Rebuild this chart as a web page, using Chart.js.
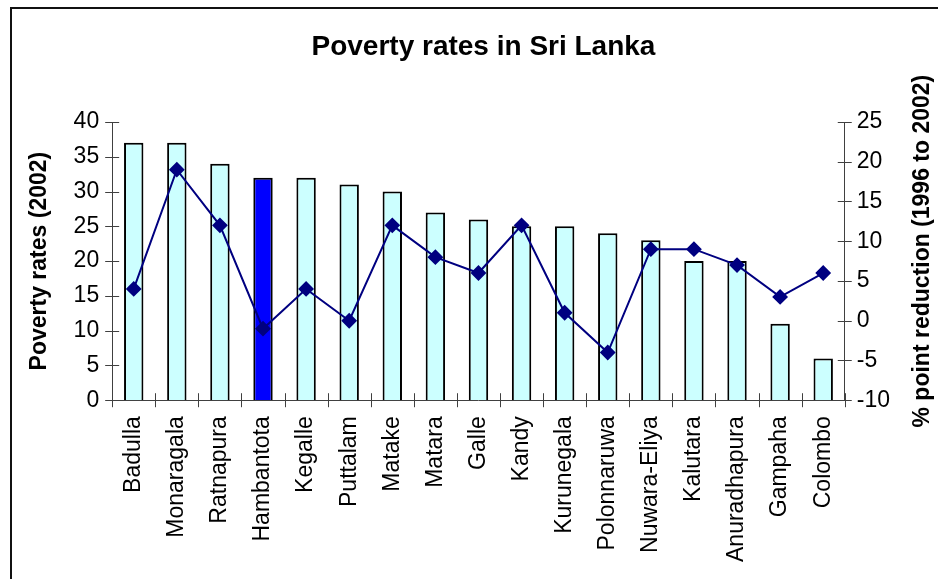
<!DOCTYPE html>
<html>
<head>
<meta charset="utf-8">
<title>Poverty rates in Sri Lanka</title>
<script src="https://cdn.jsdelivr.net/npm/chart.js@4.4.1/dist/chart.umd.min.js"></script>
<style>
    body { margin: 0; background: #fff; }
    #wrap { position: relative; width: 938px; height: 579px; overflow: hidden; }
    #frame { position: absolute; left: 10px; top: 7px; width: 1000px; height: 1000px;
             border-left: 2px solid #111; border-top: 2px solid #111; }
    canvas { position: absolute; left: 0; top: 0; }
</style>
</head>
<body>
<div id="wrap">
    <div id="frame"></div>
    <canvas id="chart" width="938" height="579"></canvas>
</div>
<script>
'use strict';

// districts, ordered by poverty rate as in the original chart
const districts = ['Badulla', 'Monaragala', 'Ratnapura', 'Hambantota', 'Kegalle', 'Puttalam',
    'Matake', 'Matara', 'Galle', 'Kandy', 'Kurunegala', 'Polonnaruwa', 'Nuwara-Eliya',
    'Kalutara', 'Anuradhapura', 'Gampaha', 'Colombo'];

// poverty rate 2002 (left axis, bars)
const povertyRates = [37, 37, 34, 32, 32, 31, 30, 27, 26, 25, 25, 24, 23, 20, 20, 11, 6];

// % point reduction 1996 to 2002 (right axis, line)
const pointReduction = [4, 19, 12, -1, 4, 0, 12, 8, 6, 12, 1, -4, 9, 9, 7, 3, 6];

const highlighted = 'Hambantota';

// [min, max, step] for the two value axes
const rateTicks = [0, 40, 5];
const reductionTicks = [-10, 25, 5];

const chartTitle = 'Poverty rates in Sri Lanka';
const leftTitle = 'Poverty rates (2002)';
const rightTitle = '% point reduction (1996 to 2002)';

const fontFamily = '"Liberation Sans", Arial, sans-serif';
const axisColor = '#404040';

/**
 * @brief draws tick marks crossing the axis lines (excel style),
 * the main title and the right axis title (reads bottom to top)
 */
const excelLook = {
    id: 'excelLook',
    afterDraw(chart) {
        const ctx = chart.ctx;
        const area = chart.chartArea;
        const x = chart.scales.x;
        const y = chart.scales.y;
        const y1 = chart.scales.y1;
        const len = 7;

        ctx.save();
        ctx.strokeStyle = axisColor;
        ctx.lineWidth = 1;
        ctx.beginPath();
        for (let i = 0; i <= districts.length; i++) {
            let px = Math.round(x.getPixelForValue(i - 0.5)) + 0.5;
            ctx.moveTo(px, x.top - len);
            ctx.lineTo(px, x.top + len);
        }
        y.ticks.forEach((t, i) => {
            let py = Math.round(y.getPixelForTick(i)) + 0.5;
            ctx.moveTo(y.right - len, py);
            ctx.lineTo(y.right + len, py);
        });
        y1.ticks.forEach((t, i) => {
            let py = Math.round(y1.getPixelForTick(i)) + 0.5;
            ctx.moveTo(y1.left - len, py);
            ctx.lineTo(y1.left + len, py);
        });
        ctx.stroke();

        ctx.fillStyle = '#000';
        ctx.textAlign = 'center';
        ctx.textBaseline = 'middle';

        // main title, a little right of the plot centre like in the original
        ctx.font = 'bold 28px ' + fontFamily;
        ctx.fillText(chartTitle, (area.left + area.right) / 2 + 5, 47);

        ctx.font = 'bold 23px ' + fontFamily;
        ctx.translate(chart.width - 15, (area.top + area.bottom) / 2 - 10);
        ctx.rotate(-Math.PI / 2);
        ctx.fillText(rightTitle, 0, 0);
        ctx.restore();
    }
};

window.onload = () => {
    const barColors = districts.map(d => d === highlighted ? '#0000FF' : '#CCFFFF');
    const tickFont = { family: fontFamily, size: 23 };

    new Chart(document.getElementById('chart'), {
        data: {
            labels: districts,
            datasets: [{
                type: 'line',
                data: pointReduction,
                yAxisID: 'y1',
                borderColor: '#000080',
                borderWidth: 2,
                pointStyle: 'rectRot',
                pointRadius: 6.5,
                pointBackgroundColor: '#000080',
                pointBorderColor: '#000080',
                tension: 0,
                order: 1
            }, {
                type: 'bar',
                data: povertyRates,
                yAxisID: 'y',
                backgroundColor: barColors,
                borderColor: '#000',
                borderWidth: 2,
                barPercentage: 0.45,
                categoryPercentage: 1,
                order: 2
            }]
        },
        options: {
            responsive: false,
            animation: false,
            layout: { padding: { top: 122, left: 10, right: 36, bottom: 1 } },
            plugins: {
                legend: { display: false },
                tooltip: { enabled: false },
                title: { display: false }
            },
            scales: {
                x: {
                    offset: true,
                    grid: { display: false, drawTicks: false },
                    border: { display: true, color: axisColor, width: 1 },
                    ticks: {
                        color: '#000',
                        font: tickFont,
                        autoSkip: false,
                        minRotation: 90,
                        maxRotation: 90,
                        padding: 16
                    }
                },
                y: {
                    position: 'left',
                    min: rateTicks[0],
                    max: rateTicks[1],
                    grid: { display: false, drawTicks: false },
                    border: { display: true, color: axisColor, width: 1 },
                    ticks: { stepSize: rateTicks[2], color: '#000', font: tickFont, padding: 13 },
                    title: {
                        display: true,
                        text: leftTitle,
                        color: '#000',
                        font: { family: fontFamily, size: 23, weight: 'bold' },
                        padding: { top: 16, bottom: 7 }
                    }
                },
                y1: {
                    position: 'right',
                    min: reductionTicks[0],
                    max: reductionTicks[1],
                    grid: { display: false, drawTicks: false },
                    border: { display: true, color: axisColor, width: 1 },
                    ticks: { stepSize: reductionTicks[2], color: '#000', font: tickFont, padding: 12 }
                }
            }
        },
        plugins: [excelLook]
    });
}
</script>
</body>
</html>
